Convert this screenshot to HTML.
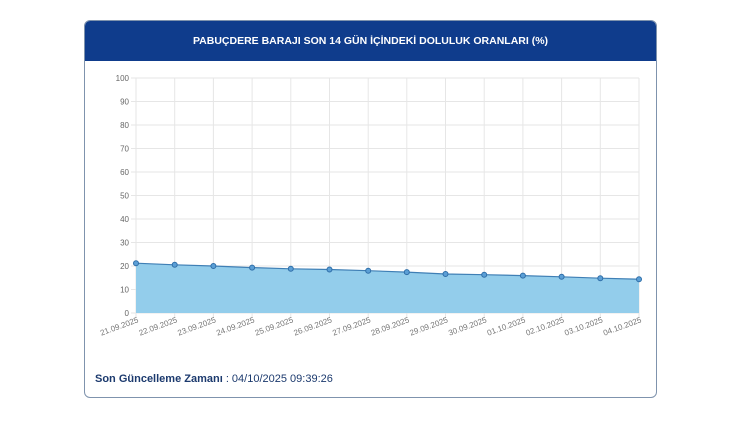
<!DOCTYPE html>
<html><head><meta charset="utf-8"><style>
body{margin:0;background:#fff;width:750px;height:421px;overflow:hidden;font-family:"Liberation Sans",sans-serif}
.card{position:absolute;left:84px;top:20px;width:573px;height:378px;border:1px solid #7f93ad;border-radius:6px;box-sizing:border-box;overflow:hidden;background:#fff}
.hdr{height:40px;background:#0f3c8c;color:#fff;font-weight:bold;font-size:10.5px;text-align:center;line-height:40px}
.ft{position:absolute;left:95px;top:373px;font-size:11px;color:#1c3a6e}
</style></head><body>
<div class="card"><div class="hdr">PABUÇDERE BARAJI SON 14 GÜN İÇİNDEKİ DOLULUK ORANLARI (%)</div></div>
<svg style="position:absolute;left:0;top:0" width="750" height="421" font-family="Liberation Sans" font-size="8" fill="#666">
<g stroke="#e6e6e6" stroke-width="1">
<line x1="131" x2="639" y1="78" y2="78"/><line x1="131" x2="639" y1="101.5" y2="101.5"/><line x1="131" x2="639" y1="125" y2="125"/><line x1="131" x2="639" y1="148.5" y2="148.5"/><line x1="131" x2="639" y1="172" y2="172"/><line x1="131" x2="639" y1="195.5" y2="195.5"/><line x1="131" x2="639" y1="219" y2="219"/><line x1="131" x2="639" y1="242.5" y2="242.5"/><line x1="131" x2="639" y1="266" y2="266"/><line x1="131" x2="639" y1="289.5" y2="289.5"/><line x1="131" x2="639" y1="313" y2="313"/>
<line y1="78" y2="318" x1="136" x2="136"/><line y1="78" y2="318" x1="174.7" x2="174.7"/><line y1="78" y2="318" x1="213.4" x2="213.4"/><line y1="78" y2="318" x1="252.1" x2="252.1"/><line y1="78" y2="318" x1="290.8" x2="290.8"/><line y1="78" y2="318" x1="329.5" x2="329.5"/><line y1="78" y2="318" x1="368.2" x2="368.2"/><line y1="78" y2="318" x1="406.8" x2="406.8"/><line y1="78" y2="318" x1="445.5" x2="445.5"/><line y1="78" y2="318" x1="484.2" x2="484.2"/><line y1="78" y2="318" x1="522.9" x2="522.9"/><line y1="78" y2="318" x1="561.6" x2="561.6"/><line y1="78" y2="318" x1="600.3" x2="600.3"/><line y1="78" y2="318" x1="639" x2="639"/>
</g>
<g text-anchor="end">
<text x="129" y="81">100</text><text x="129" y="104.5">90</text><text x="129" y="128">80</text><text x="129" y="151.5">70</text><text x="129" y="175">60</text><text x="129" y="198.5">50</text><text x="129" y="222">40</text><text x="129" y="245.5">30</text><text x="129" y="269">20</text><text x="129" y="292.5">10</text><text x="129" y="316">0</text>
</g>
<polygon fill="#93cdeb" points="136,313 136,263.2 174.7,264.8 213.4,266 252.1,267.6 290.8,268.8 329.5,269.5 368.2,270.7 406.8,272.1 445.5,274 484.2,274.7 522.9,275.6 561.6,276.8 600.3,278.2 639,279.2 639,313"/>
<polyline fill="none" stroke="#3f7fb5" stroke-width="1.2" points="136,263.2 174.7,264.8 213.4,266 252.1,267.6 290.8,268.8 329.5,269.5 368.2,270.7 406.8,272.1 445.5,274 484.2,274.7 522.9,275.6 561.6,276.8 600.3,278.2 639,279.2"/>
<g fill="#5b9fd6" stroke="#2f6ea8" stroke-width="1">
<circle cx="136" cy="263.2" r="2.5"/><circle cx="174.7" cy="264.8" r="2.5"/><circle cx="213.4" cy="266" r="2.5"/><circle cx="252.1" cy="267.6" r="2.5"/><circle cx="290.8" cy="268.8" r="2.5"/><circle cx="329.5" cy="269.5" r="2.5"/><circle cx="368.2" cy="270.7" r="2.5"/><circle cx="406.8" cy="272.1" r="2.5"/><circle cx="445.5" cy="274" r="2.5"/><circle cx="484.2" cy="274.7" r="2.5"/><circle cx="522.9" cy="275.6" r="2.5"/><circle cx="561.6" cy="276.8" r="2.5"/><circle cx="600.3" cy="278.2" r="2.5"/><circle cx="639" cy="279.2" r="2.5"/>
</g>
<g text-anchor="end" fill="#777">
<text transform="translate(139,322) rotate(-20)">21.09.2025</text>
<text transform="translate(177.7,322) rotate(-20)">22.09.2025</text>
<text transform="translate(216.4,322) rotate(-20)">23.09.2025</text>
<text transform="translate(255.1,322) rotate(-20)">24.09.2025</text>
<text transform="translate(293.8,322) rotate(-20)">25.09.2025</text>
<text transform="translate(332.5,322) rotate(-20)">26.09.2025</text>
<text transform="translate(371.2,322) rotate(-20)">27.09.2025</text>
<text transform="translate(409.8,322) rotate(-20)">28.09.2025</text>
<text transform="translate(448.5,322) rotate(-20)">29.09.2025</text>
<text transform="translate(487.2,322) rotate(-20)">30.09.2025</text>
<text transform="translate(525.9,322) rotate(-20)">01.10.2025</text>
<text transform="translate(564.6,322) rotate(-20)">02.10.2025</text>
<text transform="translate(603.3,322) rotate(-20)">03.10.2025</text>
<text transform="translate(642,322) rotate(-20)">04.10.2025</text>
</g>
</svg>
<div class="ft"><b>Son Güncelleme Zamanı</b> : 04/10/2025 09:39:26</div>
</body></html>
